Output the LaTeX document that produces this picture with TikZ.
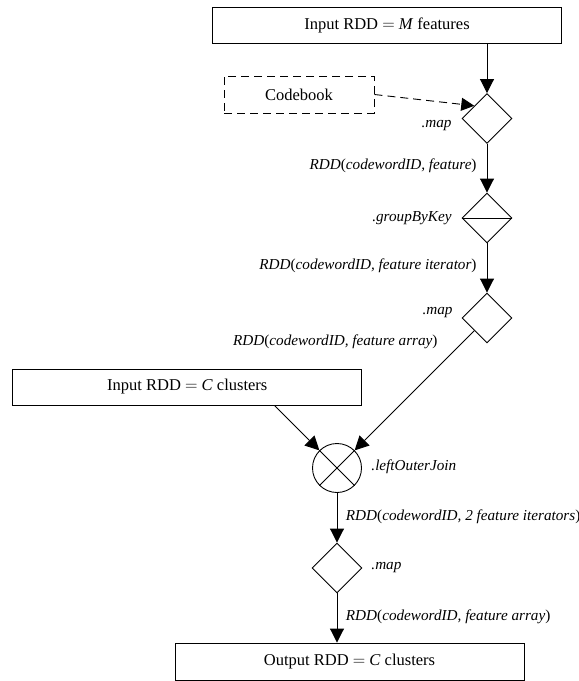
\documentclass[tikz,border=0pt]{standalone}
\usepackage{fontspec}
\setmainfont{Liberation Serif}
\usetikzlibrary{shapes.geometric,arrows.meta,calc}
\begin{document}
\begin{tikzpicture}[x=1pt,y=1pt,
  every path/.style={line width=0.9pt},
  box/.style={draw, line width=0.9pt, minimum width=349pt, minimum height=36pt, inner sep=0pt, font=\fontsize{16.5}{20}\selectfont},
  dbox/.style={draw, line width=0.9pt, dash pattern=on 8pt off 5pt, minimum width=150pt, minimum height=37pt, inner sep=0pt, font=\fontsize{16.5}{20}\selectfont},
  op/.style={draw, diamond, minimum width=50pt, minimum height=50pt, inner sep=0pt, line width=0.9pt},
  joinop/.style={draw, circle, minimum size=49pt, inner sep=0pt, line width=0.9pt},
  lbl/.style={font=\fontsize{15.2}{18}\selectfont\itshape, inner sep=0pt},
  flow/.style={-{Triangle[length=14pt,width=14pt]}, line width=0.9pt},
  dflow/.style={-{Triangle[length=13pt,width=13pt]}, line width=0.9pt, dash pattern=on 8pt off 5pt},
]
\useasboundingbox (0,0) rectangle (579,-681);

% nodes
\node[box] (top) at (387,-25) {Input RDD $=$ \textit{M} features};
\node[dbox] (cb) at (299,-94.5) {Codebook};
\node[op] (map1) at (487,-118.5) {};
\node[op] (gbk) at (487,-218) {};
\draw (gbk.west) -- (gbk.east);
\node[op] (map2) at (487,-318) {};
\node[box] (inC) at (187.3,-387) {Input RDD $=$ \textit{C} clusters};
\node[joinop] (join) at (337,-468) {};
\draw (join.north west) -- (join.south east);
\draw (join.north east) -- (join.south west);
\node[op] (map3) at (337,-568) {};
\node[box, minimum height=37pt] (out) at (349.5,-661.5) {Output RDD $=$ \textit{C} clusters};

% labels
\node[lbl, anchor=east] (lmap1) at (452,-126) {.map};
\node[lbl, anchor=east] (l1) at (477,-166) {RDD\upshape(\itshape codewordID, feature\upshape)};
\node[lbl, anchor=east] (lgbk) at (452,-218) {.groupByKey};
\node[lbl, anchor=east] (l2) at (477,-266) {RDD\upshape(\itshape codewordID, feature iterator\upshape)};
\node[lbl, anchor=east] (lmap2) at (453,-313) {.map};
\node[lbl, anchor=east] (l3) at (438,-342) {RDD\upshape(\itshape codewordID, feature array\upshape)};
\node[lbl, anchor=west] (ljoin) at (371,-467) {.leftOuterJoin};
\node[lbl, anchor=west] (l4) at (345.5,-517) {RDD\upshape(\itshape codewordID, 2 feature iterators\upshape)};
\node[lbl, anchor=west] (lmap3) at (371,-568) {.map};
\node[lbl, anchor=west] (l5) at (345.5,-617) {RDD\upshape(\itshape codewordID, feature array\upshape)};

% connectors
\coordinate (cbt) at ($(map1.west)!0.5!(map1.north)$);
\coordinate (m2s) at ($(map2.west)!0.5!(map2.south)$);
\coordinate (inCs) at ($(inC.south west)+(262,0)$);
\draw[flow] (top.south -| map1.north) -- (map1.north);
\draw[dflow] (cb.east) -- (cbt);
\draw[flow] (map1.south) -- (gbk.north);
\draw[flow] (gbk.south) -- (map2.north);
\draw[flow] (m2s) -- (join.north east);
\draw[flow] (inCs) -- (join.north west);
\draw[flow] (join.south) -- (map3.north);
\draw[flow] (map3.south) -- (out.north -| map3.south);
\end{tikzpicture}
\end{document}
